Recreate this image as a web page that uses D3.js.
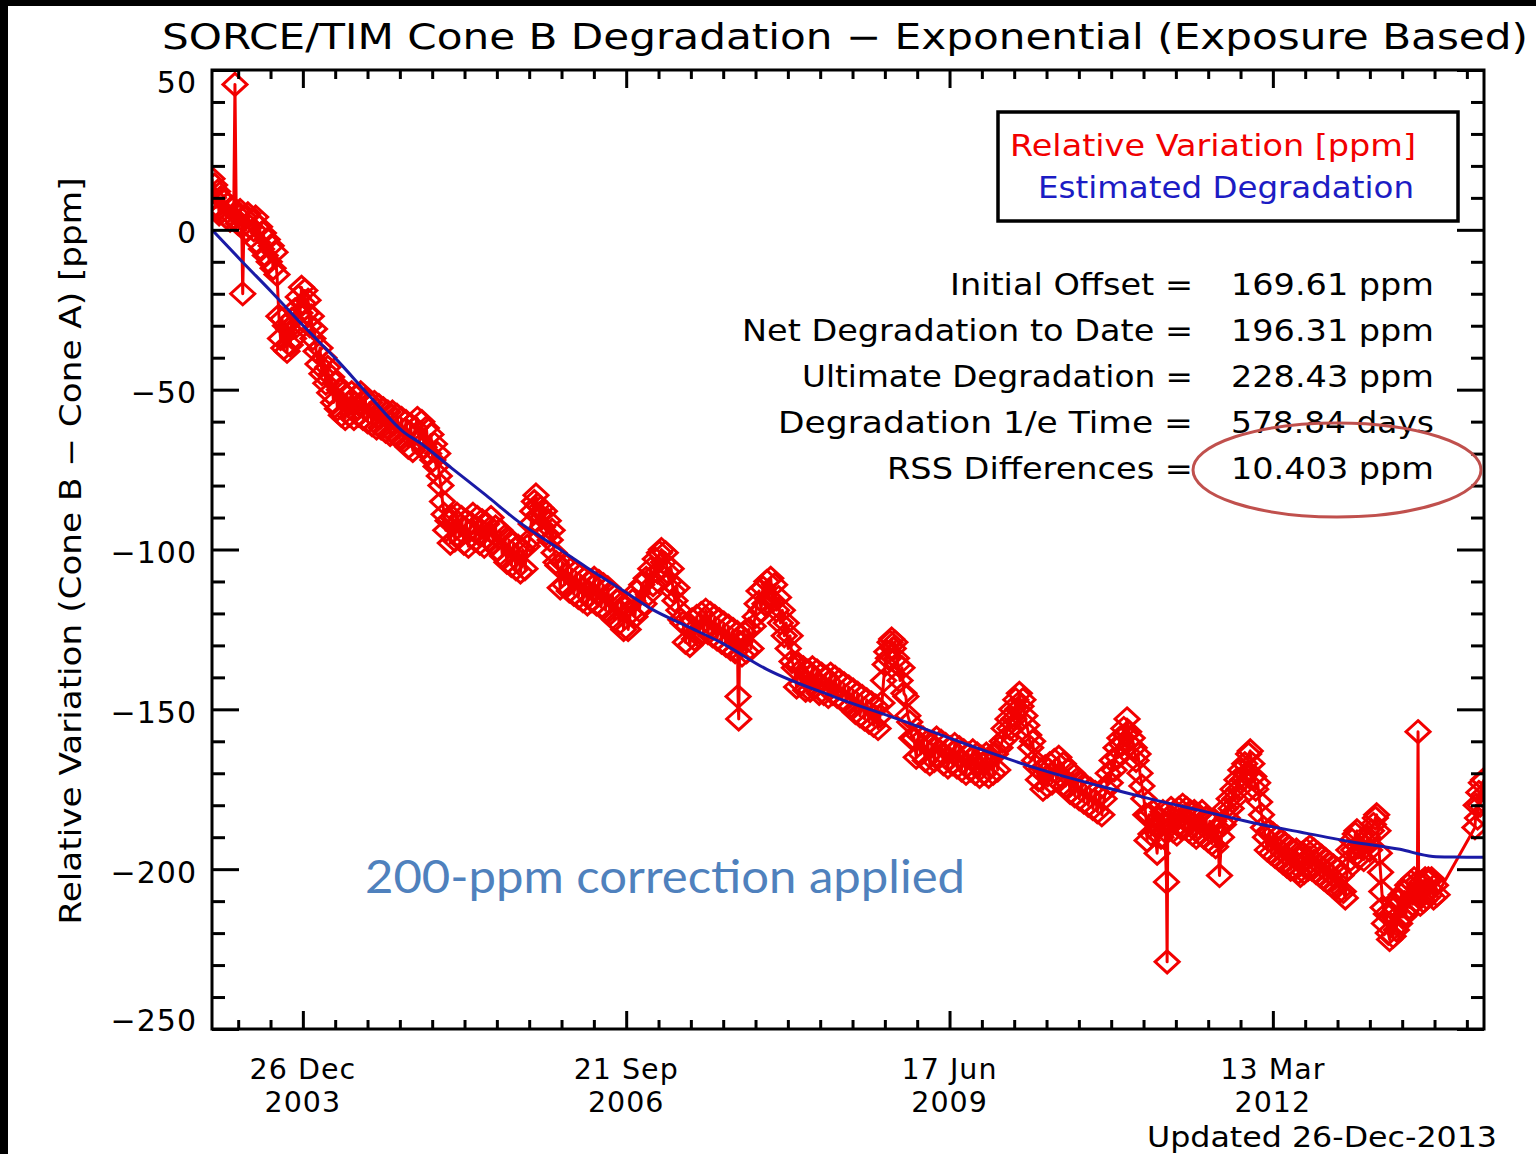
<!DOCTYPE html>
<html>
<head>
<meta charset="utf-8">
<script src="https://cdn.jsdelivr.net/npm/d3@7"></script>
<style>
  html, body { margin: 0; padding: 0; background: #ffffff; }
  svg { display: block; }
</style>
</head>
<body>
<svg id="chart" width="1536" height="1154"></svg>
<script>
// Cone B minus Cone A relative variation, ppm. Day numbers count from 1 Jan 2003.
const relVariation = [
  [78,16],[82,10],[86,14],[90,7],[95,12],[100,5],[105,10],[110,6],[116,9],[122,4],[128,8],[134,3],[140,7],[145,4],
  [149,45.5],[153,5],[159,2],[165,6],[170,1],[173,-20],[177,4],[183,0],[189,5],[195,1],[201,3],
  [207,0],[213,4],[219,-4],[225,1],[231,-6],[237,-1],[243,-8],[249,-3],[255,-10],[261,-5],[267,-12],[273,-7],[279,-14],
  [285,-27],[290,-34],[295,-28],[300,-37],[305,-30],[310,-38],[315,-31],[320,-36],[325,-28],[330,-34],[335,-25],[340,-30],
  [345,-21],[350,-26],[355,-18],[360,-23],[365,-19],[370,-26],[375,-22],[380,-30],[385,-27],[390,-34],[395,-31],[400,-38],
  [406,-42],[412,-37],[418,-45],[424,-40],[430,-48],[436,-43],[442,-51],[448,-46],[454,-54],[460,-48],[466,-56],[472,-50],
  [478,-58],[484,-51],[490,-59],[496,-52],
  [503,-58],[510,-51],[517,-59],[524,-52],[531,-58],[538,-51],[545,-59],[552,-53],[559,-60],[566,-54],[573,-61],[580,-54],
  [587,-62],[594,-55],[601,-62],[608,-56],[615,-63],[622,-57],[629,-64],[636,-57],[643,-64],[650,-58],[657,-65],
  [664,-59],[671,-66],[678,-60],[685,-68],[692,-61],[699,-69],[706,-62],[713,-59],[720,-66],[727,-60],[734,-68],[741,-62],
  [748,-70],[755,-64],[761,-72],[766,-67],[771,-74],[776,-70],[781,-77],[786,-80],[791,-85],[796,-89],[801,-94],
  [808,-91],[815,-98],[822,-90],[829,-97],[836,-89],[843,-96],[850,-90],[857,-98],[864,-91],[871,-99],[878,-92],[885,-89],
  [892,-97],[899,-90],[906,-98],[913,-91],[920,-99],[927,-92],[934,-97],[941,-90],[948,-98],[955,-93],[962,-100],[969,-94],
  [976,-102],[983,-96],[990,-104],[997,-97],[1004,-105],[1011,-98],[1018,-106],[1025,-99],[1032,-107],[1039,-100],
  [1046,-106],[1053,-99],
  [1060,-97],[1065,-92],[1070,-88],[1075,-85],[1080,-83],[1085,-86],[1090,-89],[1095,-87],[1100,-93],[1106,-88],[1112,-95],
  [1118,-91],[1124,-97],[1130,-94],[1136,-101],[1142,-104],
  [1148,-105],[1155,-112],[1162,-104],[1169,-111],[1176,-105],[1183,-113],[1190,-106],[1197,-114],[1204,-107],[1211,-115],
  [1218,-108],[1225,-116],[1232,-109],[1239,-117],[1246,-110],[1253,-116],[1260,-109],[1267,-117],[1274,-110],[1281,-118],
  [1288,-111],[1295,-119],[1302,-112],[1309,-120],[1316,-114],[1323,-122],[1330,-116],[1337,-123],[1344,-117],[1351,-125],
  [1358,-118],[1365,-125],[1372,-120],
  [1379,-116],[1386,-121],[1393,-113],[1400,-119],[1407,-111],[1414,-117],[1421,-109],[1428,-114],[1435,-106],[1442,-111],
  [1449,-103],[1456,-107],[1462,-101],[1468,-100],[1474,-104],[1480,-101],[1486,-107],[1492,-110],[1498,-106],[1504,-113],
  [1510,-116],[1516,-112],[1522,-119],[1528,-122],
  [1535,-123],[1542,-129],[1549,-124],[1556,-130],[1563,-122],[1570,-128],[1577,-121],[1584,-127],[1591,-120],[1598,-126],
  [1605,-119],[1612,-126],[1619,-120],[1626,-127],[1633,-121],[1640,-128],[1647,-122],[1654,-129],[1661,-123],[1668,-130],
  [1675,-124],[1682,-131],[1689,-125],[1696,-132],[1703,-126],[1705,-146],[1707,-153],[1710,-129],[1717,-133],[1724,-126],
  [1731,-132],[1738,-125],[1745,-131],[1752,-124],
  [1758,-121],[1764,-117],[1770,-113],[1776,-119],[1782,-112],[1788,-117],[1794,-110],[1800,-115],[1806,-109],[1812,-116],
  [1818,-111],[1824,-119],[1830,-115],[1836,-123],[1842,-119],[1848,-127],[1854,-123],[1860,-131],[1866,-127],[1872,-135],
  [1879,-137],[1886,-143],[1893,-136],[1900,-142],[1907,-137],[1914,-144],[1921,-138],[1928,-144],[1935,-137],[1942,-143],
  [1949,-138],[1956,-145],[1963,-139],[1970,-145],[1977,-140],[1984,-146],[1991,-139],[1998,-145],[2005,-140],[2012,-146],
  [2019,-141],[2026,-147],[2033,-142],[2040,-148],[2047,-143],[2054,-149],[2061,-144],[2068,-151],[2075,-145],[2082,-152],
  [2089,-146],[2096,-153],[2103,-147],[2110,-154],[2117,-148],[2124,-155],[2131,-149],[2138,-156],[2144,-152],
  [2150,-148],[2155,-141],[2160,-136],[2165,-132],[2170,-134],[2175,-129],[2180,-128],[2185,-131],[2190,-129],[2195,-134],
  [2200,-136],[2206,-141],[2212,-137],[2218,-145],[2224,-146],[2230,-152],[2236,-154],[2242,-159],
  [2249,-159],[2256,-165],[2263,-158],[2270,-164],[2277,-159],[2284,-166],[2291,-160],[2298,-167],[2305,-161],[2312,-166],
  [2319,-159],[2326,-165],[2333,-160],[2340,-167],[2347,-161],[2354,-168],[2361,-162],[2368,-167],[2375,-161],[2382,-168],
  [2389,-162],[2396,-169],[2403,-163],[2410,-170],[2417,-164],[2424,-169],[2431,-163],[2438,-170],[2445,-164],[2452,-171],
  [2459,-165],[2466,-170],[2473,-164],[2480,-171],[2487,-165],[2494,-170],[2501,-164],[2508,-169],[2515,-162],
  [2522,-160],[2528,-156],[2534,-159],[2540,-153],[2546,-156],[2552,-150],[2558,-153],[2564,-147],[2570,-150],[2575,-145],
  [2580,-149],[2586,-147],[2592,-152],[2598,-155],[2604,-158],[2610,-162],[2616,-160],[2622,-166],[2628,-168],[2634,-172],
  [2641,-169],[2648,-175],[2655,-168],[2662,-174],[2669,-167],[2676,-173],[2683,-166],[2690,-172],[2697,-165],[2704,-171],
  [2711,-167],[2718,-174],[2725,-169],[2732,-176],[2739,-170],[2746,-177],[2753,-172],[2760,-178],[2767,-173],[2774,-179],
  [2781,-174],[2788,-180],[2795,-175],[2802,-181],[2809,-176],[2816,-182],[2823,-177],[2830,-183],[2837,-178],
  [2844,-175],[2850,-170],[2856,-173],[2862,-166],[2868,-169],[2874,-162],[2880,-165],[2886,-159],[2892,-161],[2898,-156],
  [2904,-158],[2908,-153],[2913,-157],[2918,-161],[2924,-159],[2930,-162],[2936,-166],[2942,-164],[2948,-170],[2954,-174],
  [2960,-178],[2966,-183],
  [2970,-191],[2976,-183],[2982,-189],[2988,-182],[2994,-188],[3001,-195],[3007,-184],[3013,-190],[3019,-182],[3025,-188],
  [3030,-204],[3032,-229],[3034,-186],[3038,-185],[3044,-181],[3050,-188],[3056,-182],[3062,-189],[3068,-181],[3074,-187],
  [3080,-180],[3086,-187],[3092,-181],[3098,-188],[3104,-182],[3110,-189],[3116,-182],[3122,-190],[3128,-183],[3134,-189],
  [3140,-182],[3146,-190],[3152,-184],[3158,-191],[3164,-185],[3170,-192],[3176,-185],[3182,-193],[3188,-187],[3194,-202],
  [3200,-190],
  [3206,-186],[3212,-181],[3218,-184],[3224,-178],[3230,-181],[3236,-175],[3242,-178],[3248,-172],[3254,-175],[3260,-169],
  [3266,-172],[3272,-167],[3278,-170],[3284,-164],[3289,-163],[3294,-167],[3300,-171],[3306,-175],[3312,-173],[3318,-179],
  [3324,-183],[3330,-187],[3336,-190],
  [3342,-194],[3348,-188],[3354,-195],[3360,-189],[3366,-196],[3372,-190],[3378,-197],[3384,-191],[3390,-198],[3396,-192],
  [3402,-199],[3408,-193],[3414,-200],[3420,-194],[3426,-200],[3432,-194],[3438,-201],[3444,-202],[3450,-195],[3456,-201],
  [3462,-194],[3468,-200],[3474,-193],[3480,-200],[3486,-194],[3492,-201],[3498,-195],[3504,-202],[3510,-196],[3516,-203],
  [3522,-197],[3528,-204],[3534,-198],[3540,-205],[3546,-199],[3552,-206],[3558,-200],[3564,-207],[3570,-202],[3577,-207],
  [3583,-209],
  [3589,-200],[3594,-194],[3599,-197],[3604,-191],[3609,-194],[3614,-189],[3619,-188],[3624,-193],[3629,-196],[3634,-192],
  [3640,-197],[3646,-193],[3652,-190],[3658,-194],[3664,-188],[3670,-186],[3676,-184],[3680,-183],[3684,-188],[3688,-195],
  [3692,-201],[3696,-207],[3700,-212],[3704,-217],[3710,-214],[3716,-220],[3720,-222],
  [3726,-214],[3731,-221],[3736,-212],[3741,-219],[3746,-210],[3751,-217],[3756,-208],[3761,-215],[3766,-207],[3771,-214],
  [3776,-205],[3781,-212],[3786,-204],[3791,-211],[3796,-203],[3801,-210],[3806,-204],[3808,-157],[3810,-207],[3815,-211],
  [3820,-204],[3825,-210],[3830,-203],[3835,-209],[3840,-203],[3845,-208],[3850,-203],[3856,-209],[3862,-205],[3867,-208],
  [3984,-187],[3988,-180],[3992,-184],[3996,-176],[4000,-180],[4004,-173],[4008,-177],[4011,-172]
];

// Exposure-based exponential degradation estimate, ppm (same day numbering).
const degradationFit = [
  [78,0],[170,-9.8],[263,-19.5],[365,-30.5],[467,-41],[570,-52.5],[674,-63.5],[721,-66.6],[820,-74.6],[925,-83],
  [1030,-91.6],[1135,-98.7],[1237,-105.6],[1340,-112.2],[1441,-118.8],[1545,-123.9],[1650,-129],[1794,-137.5],
  [2000,-146],[2206,-153.3],[2413,-161],[2639,-168.8],[2824,-174],[2980,-178],[3133,-181.6],[3290,-185.3],
  [3443,-188.4],[3600,-191.4],[3752,-193.8],[3854,-196],[3920,-196.2],[4012,-196.3]
];

const yMajorTicks = [50, 0, -50, -100, -150, -200, -250];
const legendNames = ["Relative Variation [ppm]", "Estimated Degradation"];
const statNames = ["Initial Offset =", "Net Degradation to Date =", "Ultimate Degradation =",
                   "Degradation 1/e Time =", "RSS Differences ="];
const statValues = ["169.61 ppm", "196.31 ppm", "228.43 ppm", "578.84 days", "10.403 ppm"];

const FONT = "'DejaVu Sans', 'Liberation Sans', sans-serif";
const RED = "#f20000";
const BLUE = "#1a1aa6";

const epoch = Date.UTC(2003, 0, 1);
const toDate = d => new Date(epoch + d * 864e5);

const svg = d3.select("#chart");
const plot = { left: 212, right: 1484, top: 70, bottom: 1029 };

svg.append("rect").attr("width", 1536).attr("height", 1154).attr("fill", "#ffffff");

const x = d3.scaleUtc().domain([toDate(78), toDate(4012)]).range([plot.left, plot.right]);
const y = d3.scaleLinear().domain([-250, 50]).range([plot.bottom, plot.top]);

// clip region for the data
svg.append("defs").append("clipPath").attr("id", "plotClip")
  .append("rect")
  .attr("x", plot.left).attr("y", plot.top)
  .attr("width", plot.right - plot.left).attr("height", plot.bottom - plot.top);

const dataLayer = svg.append("g").attr("clip-path", "url(#plotClip)");

const line = d3.line().x(d => x(toDate(d[0]))).y(d => y(d[1]));

dataLayer.append("path")
  .datum(relVariation)
  .attr("d", line)
  .attr("fill", "none")
  .attr("stroke", RED)
  .attr("stroke-width", 3)
  .attr("stroke-linejoin", "round");

dataLayer.selectAll("path.diamond")
  .data(relVariation)
  .join("path")
  .attr("class", "diamond")
  .attr("d", "M0,-11L12,0L0,11L-12,0Z")
  .attr("transform", d => `translate(${x(toDate(d[0]))},${y(d[1])})`)
  .attr("fill", "none")
  .attr("stroke", RED)
  .attr("stroke-width", 3);

dataLayer.append("path")
  .datum(degradationFit)
  .attr("d", d3.line().curve(d3.curveMonotoneX).x(d => x(toDate(d[0]))).y(d => y(d[1])))
  .attr("fill", "none")
  .attr("stroke", BLUE)
  .attr("stroke-width", 3);

// axes: ticks point inward on all four sides
const tickAnchor = Date.UTC(2003, 11, 26);
const xMinor = [], xMajor = [];
for (let k = -5; k <= 40; k++) {
  const t = new Date(tickAnchor + k * 100 * 864e5);
  if (t < x.domain()[0] || t > x.domain()[1]) continue;
  (k % 10 === 0 ? xMajor : xMinor).push(t);
}
const yMinor = d3.range(-240, 50, 10).filter(v => v % 50 !== 0);

function styleAxis(g) {
  g.select(".domain").remove();
  g.selectAll("line").attr("stroke", "#000").attr("stroke-width", 3);
  g.selectAll("text").remove();
}

svg.append("g").attr("transform", `translate(0,${plot.bottom})`)
  .call(d3.axisBottom(x).tickValues(xMinor).tickSize(-9)).call(styleAxis);
svg.append("g").attr("transform", `translate(0,${plot.bottom})`)
  .call(d3.axisBottom(x).tickValues(xMajor).tickSize(-18)).call(styleAxis);
svg.append("g").attr("transform", `translate(0,${plot.top})`)
  .call(d3.axisTop(x).tickValues(xMinor).tickSize(-9)).call(styleAxis);
svg.append("g").attr("transform", `translate(0,${plot.top})`)
  .call(d3.axisTop(x).tickValues(xMajor).tickSize(-18)).call(styleAxis);

svg.append("g").attr("transform", `translate(${plot.left},0)`)
  .call(d3.axisLeft(y).tickValues(yMinor).tickSize(-13)).call(styleAxis);
svg.append("g").attr("transform", `translate(${plot.left},0)`)
  .call(d3.axisLeft(y).tickValues(yMajorTicks).tickSize(-27)).call(styleAxis);
svg.append("g").attr("transform", `translate(${plot.right},0)`)
  .call(d3.axisRight(y).tickValues(yMinor).tickSize(-13)).call(styleAxis);
svg.append("g").attr("transform", `translate(${plot.right},0)`)
  .call(d3.axisRight(y).tickValues(yMajorTicks).tickSize(-27)).call(styleAxis);

// plot frame
svg.append("rect")
  .attr("x", plot.left).attr("y", plot.top)
  .attr("width", plot.right - plot.left).attr("height", plot.bottom - plot.top)
  .attr("fill", "none").attr("stroke", "#000").attr("stroke-width", 3);

// y tick labels
svg.append("g").selectAll("text")
  .data(yMajorTicks)
  .join("text")
  .attr("x", 197)
  .attr("y", v => Math.min(Math.max(y(v) + 3, 82), 1020))
  .attr("text-anchor", "end")
  .attr("dominant-baseline", "central")
  .attr("font-family", FONT)
  .attr("font-size", 30)
  .attr("letter-spacing", 1)
  .attr("fill", "#000")
  .text(v => v < 0 ? "\u2212" + Math.abs(v) : String(v));

// x tick labels: day/month over year
const fmtDay = d3.utcFormat("%d %b");
const fmtYear = d3.utcFormat("%Y");
const xLab = svg.append("g").selectAll("g").data(xMajor).join("g")
  .attr("transform", d => `translate(${x(d)},0)`);
xLab.append("text").attr("y", 1079).text(d => fmtDay(d));
xLab.append("text").attr("y", 1112).text(d => fmtYear(d));
xLab.selectAll("text")
  .attr("text-anchor", "middle")
  .attr("font-family", FONT)
  .attr("font-size", 28.5)
  .attr("letter-spacing", 1)
  .attr("fill", "#000");

// title
svg.append("text")
  .attr("x", 162).attr("y", 49)
  .attr("textLength", 1366).attr("lengthAdjust", "spacingAndGlyphs")
  .attr("font-family", FONT).attr("font-size", 35).attr("fill", "#000")
  .text("SORCE/TIM Cone B Degradation \u2212 Exponential (Exposure Based)");

// y axis title
svg.append("text")
  .attr("transform", "translate(70,551) rotate(-90)")
  .attr("text-anchor", "middle")
  .attr("dominant-baseline", "central")
  .attr("textLength", 747).attr("lengthAdjust", "spacingAndGlyphs")
  .attr("font-family", FONT).attr("font-size", 30).attr("fill", "#000")
  .text("Relative Variation (Cone B \u2212 Cone A) [ppm]");

// legend
svg.append("rect")
  .attr("x", 998).attr("y", 112).attr("width", 460).attr("height", 109)
  .attr("fill", "#fff").attr("stroke", "#000").attr("stroke-width", 3.5);
svg.append("text").attr("x", 1010).attr("y", 156)
  .attr("textLength", 406).attr("lengthAdjust", "spacingAndGlyphs")
  .attr("font-family", FONT).attr("font-size", 30).attr("fill", RED)
  .text(legendNames[0]);
svg.append("text").attr("x", 1038).attr("y", 198)
  .attr("textLength", 376).attr("lengthAdjust", "spacingAndGlyphs")
  .attr("font-family", FONT).attr("font-size", 30).attr("fill", "#1c1cc4")
  .text(legendNames[1]);

// fit statistics
const statNameWidths = [243, 451, 391, 415, 306];
const statRows = svg.append("g").selectAll("g").data(statNames).join("g")
  .attr("transform", (d, i) => `translate(0,${295 + i * 46})`);
statRows.append("text")
  .attr("x", 1193).attr("text-anchor", "end")
  .attr("textLength", (d, i) => statNameWidths[i]).attr("lengthAdjust", "spacingAndGlyphs")
  .attr("font-family", FONT).attr("font-size", 30).attr("fill", "#000")
  .text(d => d);
statRows.append("text")
  .attr("x", 1231)
  .attr("textLength", 203).attr("lengthAdjust", "spacingAndGlyphs")
  .attr("font-family", FONT).attr("font-size", 30).attr("fill", "#000")
  .text((d, i) => statValues[i]);

// highlight around the RSS value
svg.append("ellipse")
  .attr("cx", 1337).attr("cy", 470).attr("rx", 144).attr("ry", 47)
  .attr("fill", "none").attr("stroke", "#c0504d").attr("stroke-width", 3);

// update stamp
svg.append("text")
  .attr("x", 1497).attr("y", 1137)
  .attr("text-anchor", "end").attr("dominant-baseline", "central")
  .attr("textLength", 350).attr("lengthAdjust", "spacingAndGlyphs")
  .attr("font-family", FONT).attr("font-size", 29).attr("fill", "#000")
  .text("Updated 26-Dec-2013");

// correction note
svg.append("text")
  .attr("x", 365).attr("y", 875)
  .attr("dominant-baseline", "central")
  .attr("textLength", 600).attr("lengthAdjust", "spacingAndGlyphs")
  .attr("font-family", "Lato, 'Open Sans', sans-serif").attr("font-size", 46)
  .attr("fill", "#4f81bd")
  .text("200-ppm correction applied");

// dark edge strips
svg.append("rect").attr("x", 0).attr("y", 0).attr("width", 1536).attr("height", 6).attr("fill", "#000");
svg.append("rect").attr("x", 0).attr("y", 0).attr("width", 8).attr("height", 1154).attr("fill", "#000");
</script>
</body>
</html>
